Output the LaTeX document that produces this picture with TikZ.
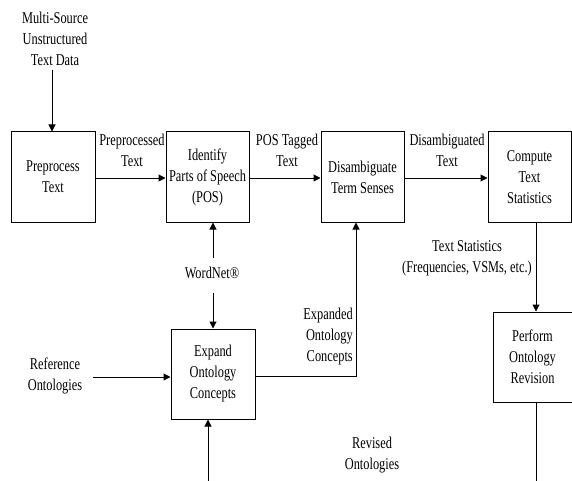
\documentclass[tikz,border=0pt]{standalone}
\usepackage{fontspec}
\setmainfont{Liberation Serif}[FakeStretch=0.75]
\usetikzlibrary{arrows.meta}
\begin{document}
\begin{tikzpicture}[x=1pt,y=-1pt,
  font=\fontsize{16.5}{21}\selectfont,
  procbox/.style={draw,line width=1pt,minimum width=84pt,minimum height=90pt,inner sep=0pt,align=center},
  lbl/.style={inner sep=0pt,align=center},
  flow/.style={line width=1pt,-{Triangle[length=7pt,width=7pt]}},
  plain/.style={line width=1pt}]
\useasboundingbox (0,0) rectangle (572,481);

% process boxes
\node[procbox,minimum width=84pt] (pre) at (53,177) {Preprocess\\Text};
\node[procbox,minimum width=83pt] (pos) at (207.5,177) {Identify\\Parts of Speech\\(POS)};
\node[procbox,minimum width=83pt] (dis) at (362.5,177) {Disambiguate\\Term Senses};
\node[procbox,minimum width=83pt] (cts) at (529.5,177) {Compute\\Text\\Statistics};
\node[procbox,minimum width=84pt] (exp) at (213,374) {Expand\\Ontology\\Concepts};
\node[procbox,minimum width=79pt] (rev) at (532.5,357) {Perform\\Ontology\\Revision};

% free labels
\node[lbl] (src) at (55,39) {Multi-Source\\Unstructured\\Text Data};
\node[lbl] (wn) at (212,273) {WordNet\char"00AE};
\node[lbl] (ref) at (55,376) {Reference\\Ontologies};
\node[lbl] (rvo) at (372,455) {Revised\\Ontologies};

% connector labels
\node[lbl] at (132,150) {Preprocessed\\Text};
\node[lbl] at (287,150) {POS Tagged\\Text};
\node[lbl] at (447,150) {Disambiguated\\Text};
\node[lbl] at (467,258) {Text Statistics\\(Frequencies, VSMs, etc.)};
\node[lbl,anchor=east,align=right] at (353,337) {Expanded\\Ontology\\Concepts};

% free ends
\coordinate (srcend) at (52,70);
\coordinate (wnup) at (213,258);
\coordinate (wndown) at (213,293);
\coordinate (refend) at (93,377);
\coordinate (bottomin) at (208,481);
\coordinate (bottomout) at (536,481);
\coordinate (bend) at (356,376);

% connectors
\draw[flow] (srcend) -- (srcend |- pre.north);
\draw[flow] (pre.east |- 0,178) -- (pos.west |- 0,178);
\draw[flow] (pos.east |- 0,178) -- (dis.west |- 0,178);
\draw[flow] (dis.east |- 0,178) -- (cts.west |- 0,178);
\draw[flow] (wnup) -- (wnup |- pos.south);
\draw[flow] (wndown) -- (wndown |- exp.north);
\draw[flow] (refend) -- (refend -| exp.west);
\draw[flow] (exp.east |- bend) -- (bend) -- (bend |- dis.south);
\draw[flow] (bottomin) -- (bottomin |- exp.south);
\draw[flow] (cts.south -| bottomout) -- (bottomout |- rev.north);
\draw[plain] (rev.south -| bottomout) -- (bottomout);
\end{tikzpicture}
\end{document}
